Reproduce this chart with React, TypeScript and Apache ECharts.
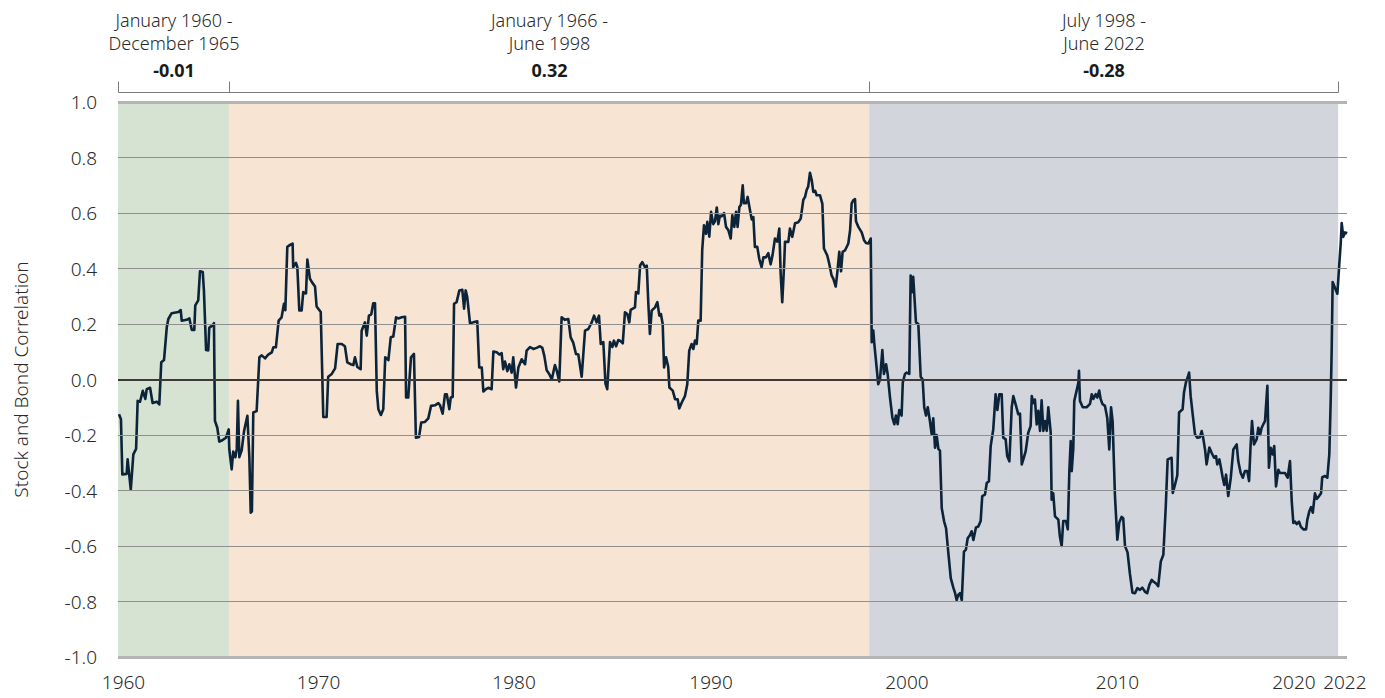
import React, { useEffect, useRef } from "react";
import * as echarts from "echarts";

// ---- Data -----------------------------------------------------------------
const periodBounds = [1960, 1965.65, 1998.2, 2022.05];
const periodTitles = ["January 1960 -\nDecember 1965", "January 1966 -\nJune 1998", "July 1998 -\nJune 2022"];
const periodAverages = ["-0.01", "0.32", "-0.28"];
// x tick labels and where they sit on the time axis
const xTickLabels = ["1960", "1970", "1980", "1990", "2000", "2010", "2020", "2022"];
const xTickPositions = [1960.28, 1970.2, 1980.14, 1990.16, 2000.12, 2010.83, 2019.8, 2022.39];
const yTicks = [-1, -0.8, -0.6, -0.4, -0.2, 0, 0.2, 0.4, 0.6, 0.8, 1];

// rolling stock / bond correlation, [year, correlation]
const period1: [number, number][] = [
  [1960.05,-0.125],[1960.15,-0.143],[1960.22,-0.342],[1960.44,-0.34],[1960.49,-0.288],[1960.65,-0.397],[1960.78,-0.27],[1960.92,-0.25],[1961.0,-0.077],[1961.12,-0.08],[1961.26,-0.041],[1961.39,-0.07],[1961.46,-0.035],[1961.63,-0.03],[1961.76,-0.085],[1961.97,-0.08],[1962.1,-0.09],[1962.2,0.062],[1962.34,0.07],[1962.48,0.188],[1962.56,0.218],[1962.73,0.239],[1963.07,0.243],[1963.19,0.25],[1963.24,0.212],[1963.49,0.215],[1963.63,0.22],[1963.75,0.179],[1963.88,0.179],[1963.93,0.267],[1964.08,0.285],[1964.17,0.39],[1964.31,0.387],[1964.37,0.32],[1964.48,0.106],[1964.59,0.105],[1964.64,0.186],[1964.8,0.195],[1964.88,0.203],[1964.93,-0.149],[1965.05,-0.174],[1965.15,-0.224],[1965.27,-0.22],[1965.49,-0.21],[1965.63,-0.18],
];
const period2: [number, number][] = [
  [1965.66,-0.252],[1965.78,-0.324],[1965.86,-0.26],[1965.97,-0.28],[1966.04,-0.25],[1966.1,-0.077],[1966.17,-0.28],[1966.29,-0.255],[1966.41,-0.186],[1966.58,-0.131],[1966.68,-0.28],[1966.75,-0.48],[1966.81,-0.475],[1966.88,-0.119],[1967.05,-0.114],[1967.19,0.08],[1967.31,0.087],[1967.48,0.076],[1967.64,0.09],[1967.82,0.098],[1967.9,0.116],[1968.03,0.116],[1968.17,0.212],[1968.32,0.224],[1968.44,0.273],[1968.51,0.25],[1968.61,0.478],[1968.75,0.485],[1968.88,0.49],[1968.91,0.405],[1969.05,0.42],[1969.12,0.405],[1969.22,0.249],[1969.34,0.249],[1969.42,0.315],[1969.56,0.31],[1969.63,0.432],[1969.76,0.363],[1969.87,0.35],[1970.02,0.335],[1970.1,0.263],[1970.31,0.243],[1970.44,-0.135],[1970.61,-0.135],[1970.69,0.01],
  [1970.87,0.02],[1971.04,0.04],[1971.17,0.128],[1971.38,0.128],[1971.54,0.12],[1971.66,0.062],[1971.83,0.055],[1971.97,0.052],[1972.05,0.08],[1972.17,0.045],[1972.34,0.037],[1972.39,0.176],[1972.56,0.206],[1972.65,0.158],[1972.76,0.23],[1972.88,0.235],[1972.98,0.275],[1973.07,0.275],[1973.16,-0.041],[1973.24,-0.107],[1973.37,-0.128],[1973.49,-0.107],[1973.59,0.08],[1973.75,0.07],[1973.87,0.152],[1974.0,0.155],[1974.14,0.224],[1974.25,0.22],[1974.43,0.224],[1974.6,0.226],[1974.65,-0.065],[1974.76,-0.065],[1974.9,0.08],[1975.05,0.092],[1975.15,-0.21],[1975.31,-0.207],[1975.42,-0.155],[1975.61,-0.153],[1975.78,-0.14],[1975.92,-0.095],[1976.12,-0.093],[1976.29,-0.085],[1976.38,-0.093],[1976.51,-0.123],[1976.63,-0.053],[1976.72,-0.053],[1976.85,-0.107],[1976.92,-0.065],[1977.02,-0.063],[1977.09,0.273],[1977.22,0.279],[1977.36,0.321],[1977.51,0.323],[1977.6,0.255],[1977.68,0.321],[1977.76,0.297],[1977.9,0.203],[1978.07,0.206],[1978.27,0.21],[1978.37,0.043],[1978.5,0.043],[1978.58,-0.043],[1978.71,-0.035],[1978.83,-0.03],[1979.0,-0.035],[1979.09,0.101],[1979.26,0.098],[1979.39,0.09],[1979.51,0.095],[1979.59,0.037],[1979.68,0.065],[1979.8,0.03],[1979.9,0.055],[1980.02,0.025],[1980.1,0.08],[1980.24,-0.029],[1980.36,0.043],[1980.53,0.073],[1980.7,0.055],[1980.78,0.104],[1980.95,0.117],[1981.12,0.11],[1981.29,0.114],[1981.46,0.12],[1981.58,0.114],[1981.68,0.085],[1981.8,0.033],[1981.93,0.02],[1982.06,0.0],[1982.22,0.052],[1982.31,0.033],[1982.44,-0.007],[1982.56,0.224],[1982.73,0.215],[1982.9,0.218],[1983.02,0.152],[1983.15,0.133],[1983.29,0.092],[1983.41,0.09],[1983.58,0.01],[1983.75,0.176],[1983.92,0.182],[1984.09,0.206],[1984.21,0.23],[1984.34,0.206],[1984.46,0.23],[1984.55,0.128],[1984.68,0.135],[1984.79,-0.015],[1984.88,-0.035],[1985.02,0.135],[1985.14,0.117],[1985.22,0.14],[1985.33,0.12],[1985.44,0.142],[1985.53,0.14],[1985.67,0.13],[1985.78,0.242],[1985.9,0.236],[1986.0,0.206],[1986.07,0.251],[1986.29,0.26],[1986.34,0.315],[1986.46,0.31],[1986.55,0.411],[1986.66,0.423],[1986.8,0.405],[1986.89,0.41],[1986.97,0.273],[1987.05,0.164],[1987.14,0.248],[1987.31,0.26],[1987.43,0.279],[1987.53,0.23],[1987.61,0.236],[1987.7,0.2],[1987.77,0.043],[1987.87,0.08],[1987.98,0.046],[1988.04,-0.029],[1988.21,-0.04],[1988.33,-0.071],[1988.46,-0.071],[1988.54,-0.104],[1988.67,-0.083],[1988.83,-0.06],[1988.95,-0.017],[1989.05,0.104],[1989.17,0.128],[1989.26,0.11],[1989.34,0.14],[1989.43,0.128],[1989.51,0.212],[1989.63,0.212],[1989.71,0.466],[1989.8,0.556],[1989.9,0.525],[1989.97,0.568],[1990.07,0.515],[1990.16,0.604],[1990.27,0.56],[1990.36,0.57],[1990.45,0.62],[1990.53,0.56],[1990.61,0.59],[1990.7,0.588],[1990.82,0.6],[1990.92,0.55],[1991.04,0.538],[1991.16,0.508],[1991.24,0.592],[1991.34,0.55],[1991.43,0.604],[1991.51,0.55],[1991.6,0.622],[1991.68,0.63],[1991.77,0.7],[1991.83,0.635],[1991.94,0.635],[1992.02,0.658],[1992.14,0.61],[1992.23,0.577],[1992.31,0.585],[1992.39,0.478],[1992.51,0.478],[1992.61,0.435],[1992.73,0.405],[1992.82,0.44],[1992.95,0.44],[1993.07,0.455],[1993.19,0.415],[1993.29,0.45],[1993.41,0.508],[1993.53,0.497],[1993.63,0.544],[1993.7,0.38],[1993.78,0.279],[1993.88,0.42],[1993.92,0.496],[1994.09,0.496],[1994.17,0.544],[1994.29,0.514],[1994.43,0.563],[1994.6,0.567],[1994.72,0.58],[1994.85,0.647],[1994.94,0.658],[1995.02,0.683],[1995.1,0.695],[1995.19,0.745],[1995.28,0.718],[1995.36,0.676],[1995.45,0.68],[1995.53,0.664],[1995.7,0.664],[1995.82,0.633],[1995.9,0.472],[1996.07,0.447],[1996.17,0.417],[1996.29,0.375],[1996.38,0.363],[1996.5,0.335],[1996.58,0.385],[1996.68,0.46],[1996.77,0.39],[1996.85,0.46],[1996.97,0.465],[1997.14,0.49],[1997.23,0.538],[1997.31,0.635],[1997.39,0.646],[1997.48,0.65],[1997.53,0.57],[1997.65,0.55],[1997.82,0.53],[1997.94,0.502],[1998.04,0.492],[1998.16,0.49],
];
const period3: [number, number][] = [
  [1998.28,0.508],[1998.33,0.134],[1998.41,0.176],[1998.46,0.13],[1998.58,0.043],[1998.66,-0.017],[1998.75,0.0],[1998.87,0.106],[1998.95,0.02],[1999.06,0.055],[1999.14,0.02],[1999.26,-0.065],[1999.38,-0.137],[1999.48,-0.161],[1999.56,-0.13],[1999.65,-0.161],[1999.73,-0.11],[1999.85,-0.13],[1999.91,-0.011],[2000.02,0.02],[2000.11,0.025],[2000.24,0.02],[2000.31,0.375],[2000.39,0.315],[2000.44,0.37],[2000.58,0.206],[2000.7,0.2],[2000.82,0.01],[2000.92,0.0],[2001.0,-0.1],[2001.09,-0.13],[2001.18,-0.1],[2001.29,-0.15],[2001.38,-0.198],[2001.46,-0.14],[2001.55,-0.246],[2001.63,-0.2],[2001.72,-0.25],[2001.8,-0.256],[2001.89,-0.463],[2002.01,-0.511],[2002.11,-0.536],[2002.22,-0.62],[2002.35,-0.716],[2002.48,-0.75],[2002.57,-0.77],[2002.65,-0.795],[2002.73,-0.776],[2002.82,-0.77],[2002.91,-0.795],[2003.02,-0.62],[2003.12,-0.613],[2003.21,-0.572],[2003.33,-0.56],[2003.41,-0.547],[2003.5,-0.578],[2003.63,-0.533],[2003.75,-0.53],[2003.87,-0.51],[2003.95,-0.42],[2004.09,-0.415],[2004.18,-0.373],[2004.29,-0.367],[2004.38,-0.24],[2004.51,-0.18],[2004.63,-0.053],[2004.72,-0.11],[2004.82,-0.053],[2004.94,-0.053],[2005.02,-0.21],[2005.14,-0.215],[2005.22,-0.276],[2005.33,-0.295],[2005.45,-0.1],[2005.53,-0.06],[2005.67,-0.095],[2005.78,-0.125],[2005.87,-0.123],[2005.96,-0.306],[2006.04,-0.288],[2006.16,-0.258],[2006.29,-0.192],[2006.41,-0.168],[2006.47,-0.06],[2006.55,-0.085],[2006.63,-0.072],[2006.72,-0.162],[2006.8,-0.113],[2006.89,-0.185],[2006.97,-0.075],[2007.06,-0.185],[2007.14,-0.15],[2007.23,-0.185],[2007.31,-0.1],[2007.43,-0.19],[2007.48,-0.433],[2007.56,-0.41],[2007.65,-0.493],[2007.82,-0.505],[2007.9,-0.566],[2007.99,-0.6],[2008.07,-0.51],[2008.21,-0.51],[2008.3,-0.54],[2008.38,-0.33],[2008.45,-0.222],[2008.5,-0.33],[2008.58,-0.25],[2008.63,-0.077],[2008.75,-0.04],[2008.84,-0.011],[2008.87,0.031],[2008.92,-0.077],[2009.06,-0.1],[2009.26,-0.1],[2009.43,-0.088],[2009.52,-0.053],[2009.6,-0.07],[2009.72,-0.053],[2009.8,-0.065],[2009.9,-0.04],[2009.97,-0.07],[2010.06,-0.088],[2010.19,-0.095],[2010.31,-0.14],[2010.41,-0.252],[2010.5,-0.1],[2010.58,-0.15],[2010.7,-0.42],[2010.82,-0.577],[2010.92,-0.515],[2011.04,-0.495],[2011.12,-0.5],[2011.21,-0.6],[2011.34,-0.623],[2011.46,-0.7],[2011.59,-0.768],[2011.72,-0.77],[2011.84,-0.752],[2011.97,-0.758],[2012.09,-0.75],[2012.23,-0.765],[2012.34,-0.77],[2012.45,-0.74],[2012.57,-0.722],[2012.65,-0.728],[2012.79,-0.735],[2012.9,-0.745],[2013.03,-0.656],[2013.16,-0.632],[2013.28,-0.463],[2013.38,-0.288],[2013.58,-0.282],[2013.64,-0.409],[2013.75,-0.38],[2013.87,-0.345],[2013.96,-0.119],[2014.14,-0.107],[2014.21,-0.047],[2014.31,-0.01],[2014.4,0.008],[2014.47,0.025],[2014.55,-0.06],[2014.65,-0.124],[2014.77,-0.198],[2014.89,-0.21],[2015.02,-0.208],[2015.11,-0.186],[2015.19,-0.212],[2015.28,-0.252],[2015.36,-0.306],[2015.5,-0.245],[2015.62,-0.265],[2015.74,-0.282],[2015.84,-0.276],[2015.9,-0.306],[2016.01,-0.288],[2016.09,-0.318],[2016.18,-0.354],[2016.26,-0.38],[2016.35,-0.343],[2016.46,-0.42],[2016.59,-0.354],[2016.72,-0.252],[2016.89,-0.234],[2016.97,-0.294],[2017.09,-0.336],[2017.2,-0.354],[2017.31,-0.33],[2017.43,-0.33],[2017.52,-0.366],[2017.6,-0.234],[2017.67,-0.15],[2017.77,-0.234],[2017.91,-0.215],[2017.99,-0.174],[2018.08,-0.2],[2018.16,-0.174],[2018.24,-0.162],[2018.33,-0.15],[2018.45,-0.023],[2018.53,-0.318],[2018.62,-0.246],[2018.72,-0.27],[2018.8,-0.24],[2018.89,-0.385],[2019.01,-0.325],[2019.09,-0.337],[2019.35,-0.337],[2019.48,-0.354],[2019.6,-0.294],[2019.69,-0.439],[2019.77,-0.517],[2019.86,-0.512],[2019.94,-0.521],[2020.06,-0.512],[2020.15,-0.53],[2020.28,-0.54],[2020.42,-0.54],[2020.48,-0.506],[2020.58,-0.476],[2020.67,-0.46],[2020.76,-0.48],[2020.87,-0.41],[2020.96,-0.43],[2021.08,-0.42],[2021.18,-0.41],[2021.24,-0.352],[2021.38,-0.348],[2021.5,-0.354],[2021.6,-0.27],[2021.67,-0.077],[2021.72,0.104],[2021.77,0.351],[2021.89,0.33],[2022.01,0.309],[2022.11,0.418],[2022.18,0.49],[2022.23,0.564],[2022.31,0.514],[2022.4,0.53],[2022.51,0.527],
];

// ---- Styles ---------------------------------------------------------------
const FONT = "'Noto Sans', 'Open Sans', sans-serif";
const TEXT_COLOR = "#2a2a2a";
const bandColors = ["#d6e2d2", "#f8e4d2", "#d3d5dd"];

export default function App() {
  const ref = useRef<HTMLDivElement>(null);

  useEffect(() => {
    const chart = echarts.init(ref.current!, null, { renderer: "svg" });
    const xMax = 2022.5;
    const series: any[] = [
      {
        name: "bands",
        type: "line",
        data: [],
        z: 1,
        silent: true,
        markArea: {
          silent: true,
          data: periodBounds.slice(0, -1).map((b, i) => [
            { xAxis: b, yAxis: 1, itemStyle: { color: bandColors[i] } },
            { xAxis: periodBounds[i + 1], yAxis: -1 },
          ]),
        },
      },
      {
        name: "grid",
        type: "line",
        data: [],
        z: 2,
        silent: true,
        markLine: {
          silent: true,
          symbol: "none",
          label: { show: false },
          data: yTicks.map((v) => ({
            yAxis: v,
            lineStyle:
              Math.abs(v) === 1
                ? { color: "#b4b4b4", width: 3, type: "solid" }
                : v === 0
                ? { color: "#3e3838", width: 2, type: "solid" }
                : { color: "#8f8f8f", width: 1, type: "solid" },
          })),
        },
      },
      {
        name: "Stock and Bond Correlation",
        type: "line",
        z: 3,
        showSymbol: false,
        symbol: "none",
        lineStyle: { color: "#0c2439", width: 2.6, join: "round" },
        data: [...period1, ...period2, ...period3],
      },
    ];

    chart.setOption({
      animation: false,
      backgroundColor: "#ffffff",
      grid: { left: 118, right: 38, top: 102, bottom: 41, containLabel: false },
      xAxis: {
        type: "value",
        min: 1960,
        max: xMax,
        splitLine: { show: false },
        axisLine: { show: false },
        axisTick: { show: false },
        axisLabel: {
          customValues: xTickPositions,
          hideOverlap: false,
          showMinLabel: true,
          showMaxLabel: true,
          formatter: (v: number) => {
            let best = 0;
            xTickPositions.forEach((p, i) => {
              if (Math.abs(p - v) < Math.abs(xTickPositions[best] - v)) best = i;
            });
            return xTickLabels[best];
          },
          fontFamily: FONT,
          fontSize: 19,
          fontWeight: 300,
          color: TEXT_COLOR,
          margin: 15,
        },
      },
      yAxis: {
        type: "value",
        min: -1,
        max: 1,
        interval: 0.2,
        splitLine: { show: false },
        axisLine: { show: false },
        axisTick: { show: false },
        axisLabel: {
          formatter: (v: number) => v.toFixed(1),
          fontFamily: FONT,
          fontSize: 19,
          fontWeight: 300,
          color: TEXT_COLOR,
          margin: 21,
        },
        name: "Stock and Bond Correlation",
        nameLocation: "middle",
        nameGap: 88,
        nameTextStyle: { fontFamily: FONT, fontSize: 19, fontWeight: 300, color: TEXT_COLOR },
      },
      series,
    });

    const px = (yr: number, v: number) =>
      chart.convertToPixel({ gridIndex: 0 }, [yr, v]) as number[];
    const topY = px(1960, 1)[1];
    const bracketY = Math.round(topY - 10) + 0.5;
    const bx = periodBounds.map((b) => Math.round(px(b, 1)[0]) + 0.5);
    const lineStyle = { stroke: "#7b7b7b", lineWidth: 1 };
    const graphics: any[] = [
      {
        type: "line",
        silent: true,
        shape: { x1: bx[0], y1: bracketY, x2: bx[bx.length - 1], y2: bracketY },
        style: lineStyle,
      },
      ...bx.map((x) => ({
        type: "line",
        silent: true,
        shape: { x1: x, y1: bracketY - 11, x2: x, y2: bracketY },
        style: lineStyle,
      })),
    ];
    periodTitles.forEach((title, i) => {
      const cx = (bx[i] + bx[i + 1]) / 2;
      graphics.push({
        type: "text",
        silent: true,
        x: cx,
        y: 31.5,
        style: {
          text: title,
          align: "center",
          verticalAlign: "middle",
          lineHeight: 23,
          fontFamily: FONT,
          fontSize: 18,
          fontWeight: 300,
          fill: TEXT_COLOR,
        },
      });
      graphics.push({
        type: "text",
        silent: true,
        x: cx,
        y: 70,
        style: {
          text: periodAverages[i],
          align: "center",
          verticalAlign: "middle",
          fontFamily: FONT,
          fontSize: 18,
          fontWeight: "bold",
          fill: "#1a1a1a",
        },
      });
    });
    chart.setOption({ graphic: graphics });

    return () => chart.dispose();
  }, []);

  return (
    <div
      ref={ref}
      style={{ position: "fixed", left: 0, top: 0, width: 1385, height: 698, background: "#fff" }}
    />
  );
}
